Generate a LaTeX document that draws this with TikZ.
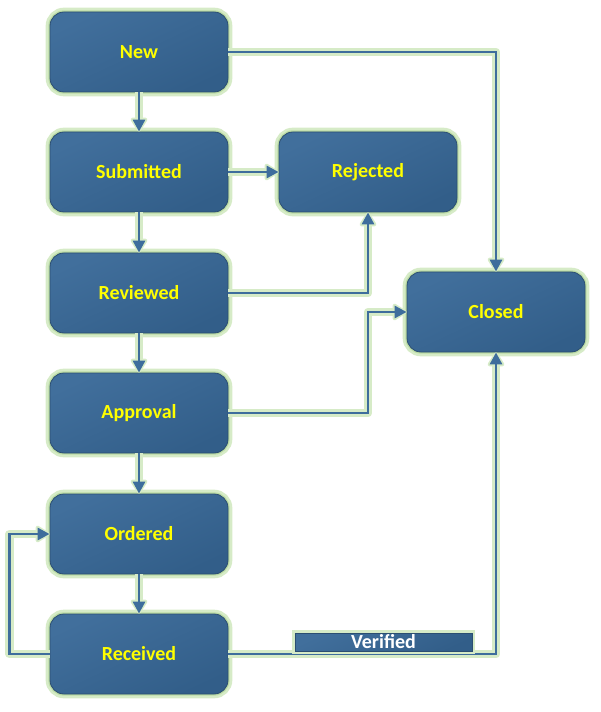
\documentclass[tikz,border=0pt]{standalone}
\usepackage{fontspec}
\setmainfont{Carlito}
\usetikzlibrary{arrows.meta}
\definecolor{glow}{HTML}{D6EBC7}
\definecolor{glowin}{HTML}{BCDCA4}
\definecolor{nodetop}{HTML}{416F9C}
\definecolor{nodebot}{HTML}{325E89}
\definecolor{nodeedge}{HTML}{2C4E72}
\definecolor{linkblue}{HTML}{3E6D9C}
\definecolor{txtyellow}{HTML}{FFFF00}
\tikzset{
  state/.style={rectangle, rounded corners=10.5pt, minimum width=133.5pt,
    minimum height=60pt, inner sep=0pt, draw=nodeedge, line width=0.6pt,
    top color=nodetop, bottom color=nodebot, shading angle=25,
    text=txtyellow,
    font=\fontsize{15}{17}\selectfont\bfseries,
    preaction={draw=glow, line width=6.5pt},
    preaction={draw=glowin, line width=2.5pt}},
  tag/.style={rectangle, minimum width=132.75pt, minimum height=13.5pt,
    inner sep=0pt, draw=nodeedge, line width=0.6pt,
    top color=nodetop, bottom color=nodebot, shading angle=25, text=white,
    font=\fontsize{15}{15}\selectfont\bfseries,
    preaction={draw=glow, line width=4.5pt}},
  link/.style={draw=linkblue, line width=2.2pt,
    -{Triangle[length=9pt,width=9pt]},
    preaction={draw=glow, line width=6.5pt, line join=round,
      -{Triangle[length=12pt,width=14pt,round]}}}
}
\begin{document}
\begin{tikzpicture}[x=0.75pt,y=-0.75pt]
\useasboundingbox (0,0) rectangle (600,712);
\node[state] (new) at (139,52) {New};
\node[state] (sub) at (139,172) {Submitted};
\node[state] (rej) at (368,172) {Rejected};
\node[state] (rev) at (139,293) {Reviewed};
\node[state] (app) at (139,413) {Approval};
\node[state] (ord) at (139,534) {Ordered};
\node[state] (rec) at (139,654) {Received};
\node[state] (clo) at (496,312) {Closed};

\draw[link] (new.east) -| (clo.north);
\draw[link] (new) -- (sub);
\draw[link] (sub) -- (rej);
\draw[link] (sub) -- (rev);
\draw[link] (rev.east) -| (rej.south);
\draw[link] (rev) -- (app);
\draw[link] (app.east) -| (rej.south |- clo.west) -- (clo.west);
\draw[link] (app) -- (ord);
\draw[link] (ord) -- (rec);
\draw[link] (rec.west) -- ++(-40,0) |- (ord.west);
\draw[link] (rec.east) -| (clo.south);
\node[tag] (ver) at (383.5,642) {Verified};
\end{tikzpicture}
\end{document}
